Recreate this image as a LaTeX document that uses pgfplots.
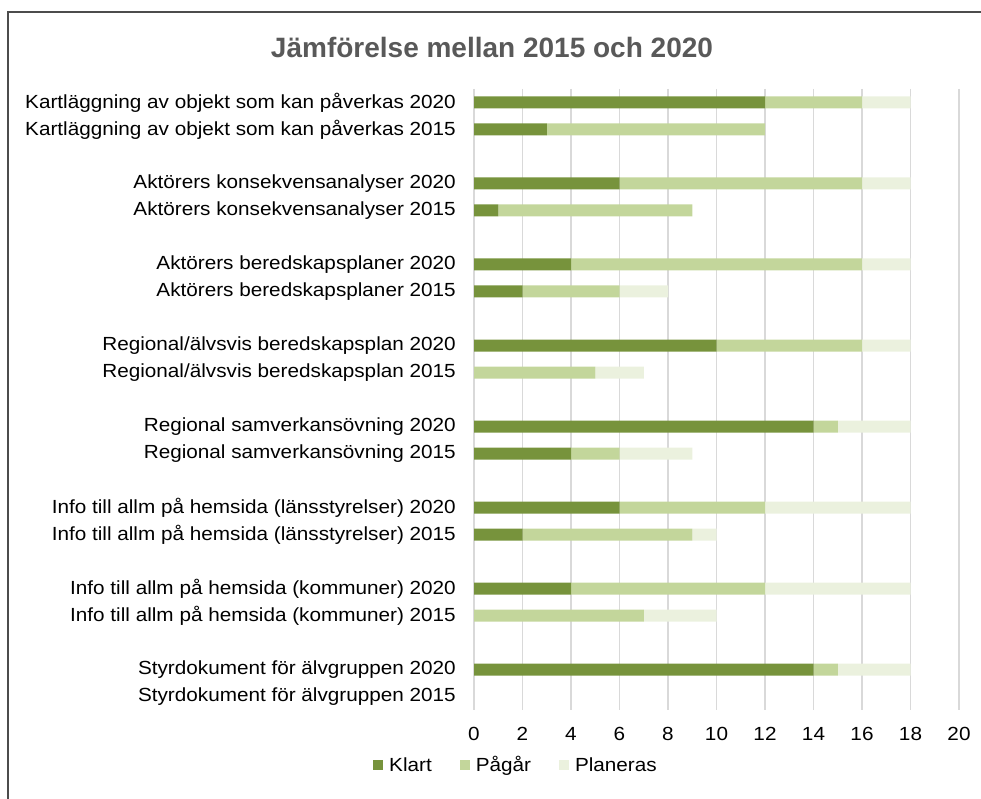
\documentclass[border=0pt]{standalone}
\usepackage{fontspec}
\setmainfont{Liberation Sans}[FakeStretch=1.09]
\newfontfamily\titlefont{Liberation Sans}
\usepackage{pgfplots}
\usepackage{pgfplotstable}
\pgfplotsset{compat=1.18}
\definecolor{klart}{HTML}{77933C}
\definecolor{pagar}{HTML}{C3D69B}
\definecolor{plan}{HTML}{EBF1DE}
\definecolor{gridc}{HTML}{D9D9D9}
\definecolor{titlec}{HTML}{595959}

\pgfplotstableread{
y k p pl
0 12 4 2
1 3 9 0
3 6 10 2
4 1 8 0
6 4 12 2
7 2 4 2
9 10 6 2
10 0 5 2
12 14 1 3
13 4 2 3
15 6 6 6
16 2 7 1
18 4 8 6
19 0 7 3
21 14 1 3
22 0 0 0
}\data

\pgfplotsset{
  sqlegend/.style={legend image code/.code={\fill[##1] (0pt,-5pt) rectangle (10pt,5pt);}}
}

\begin{document}
\begin{tikzpicture}
\useasboundingbox (0pt,0pt) rectangle (981pt,799pt);
\draw[line width=2pt, color=black!70] (8pt,0pt) -- (8pt,787pt) -- (981pt,787pt);
\node[anchor=base, font=\titlefont\bfseries\fontsize{28}{32}\selectfont, text=titlec] at (492pt,741pt) {Jämförelse mellan 2015 och 2020};
\begin{axis}[
  at={(474pt,89pt)}, anchor=south west,
  width=485pt, height=621pt, scale only axis,
  xbar stacked, bar width=12pt,
  xmin=0, xmax=20, ymin=-0.5, ymax=22.5,
  y dir=reverse,
  xtick={0,2,...,20},
  ytick={0,1,3,4,6,7,9,10,12,13,15,16,18,19,21,22},
  yticklabels={
    Kartläggning av objekt som kan påverkas 2020,
    Kartläggning av objekt som kan påverkas 2015,
    Aktörers konsekvensanalyser 2020,
    Aktörers konsekvensanalyser 2015,
    Aktörers beredskapsplaner 2020,
    Aktörers beredskapsplaner 2015,
    Regional/älvsvis beredskapsplan 2020,
    Regional/älvsvis beredskapsplan 2015,
    Regional samverkansövning 2020,
    Regional samverkansövning 2015,
    Info till allm på hemsida (länsstyrelser) 2020,
    Info till allm på hemsida (länsstyrelser) 2015,
    Info till allm på hemsida (kommuner) 2020,
    Info till allm på hemsida (kommuner) 2015,
    Styrdokument för älvgruppen 2020,
    Styrdokument för älvgruppen 2015},
  xmajorgrids, grid style={gridc, line width=1.5pt},
  axis line style={draw=none},
  major tick length=0pt, tick style={draw=none},
  /pgf/number format/assume math mode=true,
  tick label style={font=\fontsize{19}{22}\selectfont, text=black, inner sep=0pt},
  yticklabel style={anchor=east, xshift=-18pt},
  xticklabel style={anchor=north, yshift=-17pt},
  sqlegend,
  legend columns=3,
  legend style={at={(axis description cs:0.0845,-0.0886)}, anchor=center, draw=none, fill=none,
    font=\fontsize{19}{22}\selectfont, nodes={inner sep=0pt},
    /tikz/every odd column/.append style={column sep=6pt},
    /tikz/every even column/.append style={column sep=28pt}},
]
\addplot[fill=klart, draw=none] table[x=k, y=y]{\data};
\addlegendentry{Klart}
\addplot[fill=pagar, draw=none] table[x=p, y=y]{\data};
\addlegendentry{Pågår}
\addplot[fill=plan, draw=none] table[x=pl, y=y]{\data};
\addlegendentry{Planeras}
\end{axis}
\end{tikzpicture}
\end{document}
